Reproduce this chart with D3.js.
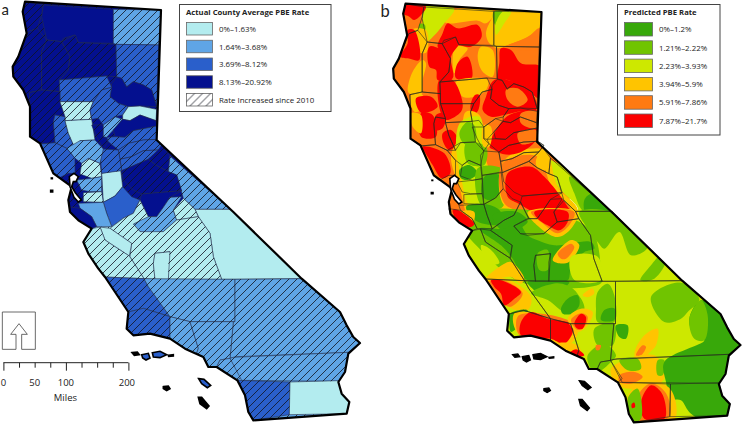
<!DOCTYPE html>
<html><head><meta charset="utf-8">
<script src="https://cdnjs.cloudflare.com/ajax/libs/d3/7.8.5/d3.min.js"></script>
<style>html,body{margin:0;padding:0;background:#fff}svg{display:block}text{font-family:"Open Sans",sans-serif;fill:#222}</style>
</head><body><svg id="c" width="742" height="424"></svg>
<script>
// legend content
const actualLabels = ["0%–1.63%","1.64%–3.68%","3.69%–8.12%","8.13%–20.92%"];
const actualColors = ["#b3ecef","#5fa5e6","#2a5fcb","#04108f"];
const predLabels = ["0%–1.2%","1.21%–2.22%","2.23%–3.93%","3.94%–5.9%","5.91%–7.86%","7.87%–21.7%"];
const predColors = ["#38a80a","#70c400","#cde800","#ffc400","#ff7a12","#fb0000"];
const scaleMiles = [0,25,50,75,100,125,150,175,200];
const scaleLabels = [0,50,100,200];

// map geometry in map units (1/3 px)
const stateOutline = [[75,5],[483,30],[470,420],[700,636],[905,836],[1020,936],[1040,976],[1060,1011],[1080,1029],[1045,1061],[1035,1116],[1015,1146],[1025,1181],[1048,1206],[1040,1241],[760,1261],[745,1236],[735,1186],[712,1141],[650,1101],[625,1101],[610,1071],[555,1046],[510,1016],[450,1001],[400,1006],[380,986],[385,936],[355,891],[315,831],[295,806],[265,761],[250,726],[275,686],[235,661],[210,636],[205,600],[215,560],[160,520],[120,430],[90,410],[90,320],[70,270],[40,230],[38,200],[55,170],[80,100],[68,35]];
// under-colour of the three broad regions: [actual class, outline]
const regionBands = [
[3,[[0,0],[1113,0],[1113,650],[0,650]]],
[0,[[0,650],[1113,650],[1113,834],[0,834]]],
[1,[[0,834],[1113,834],[1113,1272],[0,1272]]]
];
// [actual class, rate increased, outline]
const counties = [
[3,1,[[75,5],[130,15],[125,45],[112,85],[85,95],[80,100],[68,35]]],
[3,0,[[130,15],[340,28],[340,130],[235,128],[225,105],[190,115],[185,125],[140,120],[125,50]]],
[3,1,[[85,95],[112,85],[140,120],[125,155],[125,270],[88,278],[90,320],[70,270],[40,230],[38,200],[55,170]]],
[3,1,[[140,120],[185,125],[210,170],[205,210],[178,240],[180,275],[125,270],[125,155]]],
[3,1,[[185,125],[225,105],[235,128],[348,133],[350,230],[320,228],[178,240],[205,210],[210,170]]],
[1,1,[[340,28],[483,30],[476,135],[348,133],[340,130]]],
[2,1,[[348,133],[476,135],[470,320],[455,270],[430,255],[400,245],[380,260],[365,235],[350,230]]],
[3,0,[[330,290],[335,250],[350,232],[365,235],[380,262],[400,245],[430,255],[455,270],[470,320],[420,318],[385,320],[355,310]]],
[2,1,[[178,240],[320,228],[335,262],[305,270],[280,305],[180,305]]],
[3,1,[[88,278],[125,270],[180,275],[180,305],[195,350],[165,345],[160,365],[165,428],[120,432],[90,410],[90,320]]],
[0,1,[[180,305],[280,305],[270,330],[275,358],[195,362],[195,350]]],
[2,1,[[280,305],[305,270],[335,262],[330,290],[355,310],[385,320],[368,345],[345,350],[310,375],[295,355],[275,358],[270,330]]],
[0,0,[[368,345],[385,320],[420,318],[470,328],[468,362],[420,345],[390,362],[368,358]]],
[2,1,[[165,345],[195,350],[195,362],[205,400],[225,445],[200,445],[165,428],[160,365]]],
[0,0,[[195,362],[275,358],[285,420],[240,422],[225,445],[205,400]]],
[3,1,[[275,375],[310,375],[310,410],[325,425],[310,447],[290,410]]],
[1,1,[[310,375],[345,350],[368,358],[340,390],[320,412],[310,410]]],
[3,0,[[340,390],[368,358],[390,362],[420,345],[468,362],[470,378],[400,392],[375,412],[345,410]]],
[2,1,[[320,412],[345,410],[375,412],[400,392],[470,378],[472,418],[430,420],[385,430],[355,450],[325,425]]],
[2,1,[[355,450],[385,430],[430,420],[472,418],[490,430],[475,450],[430,452],[395,470],[360,478]]],
[2,1,[[360,478],[395,470],[430,452],[475,450],[445,478],[365,512]]],
[3,1,[[472,418],[510,468],[505,515],[470,497],[445,478],[475,450],[490,430]]],
[1,1,[[510,468],[700,636],[695,628],[585,628],[550,595],[530,525],[505,515]]],
[0,0,[[585,628],[695,628],[905,836],[665,838],[640,770],[630,700],[595,650]]],
[3,1,[[365,512],[445,478],[470,497],[505,515],[530,525],[545,572],[425,582],[400,570],[370,540]]],
[3,0,[[425,582],[545,572],[510,592],[490,622],[470,650],[445,650],[420,600]]],
[1,1,[[400,672],[440,650],[470,650],[490,622],[510,592],[545,590],[520,630],[530,660],[490,695],[440,700],[420,695]]],
[0,1,[[520,630],[550,595],[585,628],[595,650],[530,660]]],
[0,0,[[305,520],[362,510],[368,560],[345,588],[310,607]]],
[2,1,[[300,460],[310,447],[355,450],[360,478],[365,512],[305,520]]],
[0,1,[[245,490],[265,475],[300,490],[305,530],[275,535],[240,522]]],
[1,1,[[200,445],[240,422],[285,420],[310,447],[300,490],[265,475],[245,490],[225,475]]],
[2,1,[[120,432],[165,428],[200,445],[225,475],[225,520],[205,520],[175,535],[160,520]]],
[1,1,[[230,540],[275,535],[305,530],[305,575],[270,575],[245,570]]],
[0,1,[[250,578],[305,575],[310,607],[250,605]]],
[2,0,[[310,607],[345,588],[368,560],[395,590],[420,600],[400,640],[370,655],[335,680],[320,640]]],
[0,1,[[330,685],[370,655],[400,640],[420,600],[445,650],[400,672],[420,695],[490,695],[530,660],[595,650],[630,700],[640,770],[665,838],[505,838],[505,780],[510,755],[465,760],[460,790],[465,838],[432,836],[390,770],[395,730]]],
[0,0,[[465,760],[510,755],[505,838],[465,838],[460,790]]],
[0,0,[[300,681],[330,685],[395,730],[388,768],[345,740],[315,720]]],
[0,1,[[250,726],[275,686],[300,681],[315,720],[345,740],[388,768],[432,836],[315,831],[295,806],[265,761]]],
[1,0,[[235,610],[310,607],[320,640],[335,680],[290,680],[275,650],[240,625]]],
[3,0,[[205,620],[240,625],[275,650],[290,680],[275,686],[235,661],[210,636]]],
[2,1,[[315,831],[432,836],[445,860],[510,950],[430,925],[385,936],[355,891]]],
[2,1,[[385,936],[430,925],[510,950],[510,1016],[450,1001],[400,1006],[380,986]]],
[1,1,[[432,836],[705,838],[705,965],[570,965],[510,950],[445,860]]],
[1,1,[[705,838],[905,836],[1020,936],[1040,976],[1060,1011],[1080,1029],[1045,1057],[710,1070],[690,1075],[700,965],[705,965]]],
[1,1,[[510,950],[570,965],[595,1045],[590,1060],[610,1071],[555,1046],[510,1016]]],
[1,1,[[570,965],[700,965],[690,1075],[660,1080],[650,1101],[625,1101],[610,1071],[590,1060],[595,1045]]],
[1,1,[[660,1080],[690,1075],[725,1130],[712,1141],[650,1101]]],
[1,1,[[700,1072],[1045,1057],[1035,1116],[1015,1144],[725,1141],[690,1075]]],
[2,1,[[712,1141],[870,1146],[868,1244],[760,1261],[745,1236],[735,1186]]],
[0,0,[[870,1146],[1015,1142],[1025,1181],[1048,1206],[1040,1241],[868,1244]]]
];
const bayWater = [[208,530],[222,520],[235,530],[228,545],[220,545],[215,560],[226,578],[244,600],[235,606],[222,592],[210,560]];
const islands = [[[396,1058],[412,1056],[418,1064],[403,1066]],[[425,1064],[445,1060],[450,1074],[438,1080],[428,1074]],[[457,1058],[480,1054],[500,1064],[480,1073],[460,1071]],[[505,1066],[520,1064],[520,1068],[506,1069]],[[596,1136],[612,1138],[632,1156],[622,1163],[605,1151]],[[490,1160],[505,1158],[510,1166],[500,1172],[490,1166]],[[595,1192],[605,1192],[627,1218],[620,1226],[600,1211]],[[152,571],[158,571],[158,576],[152,576]],[[154,534],[157,534],[157,536],[154,536]]];
const blueIslands = [1,2,4];
// predicted surface, painted in order: [predicted class, contour]
const surface = [
[4,[[0,0],[560,0],[560,660],[200,660],[0,400]]],
[2,[[500,470],[800,636],[1150,1000],[1150,1300],[700,1300],[200,900],[240,700],[400,640],[620,630],[560,560]]],
[3,[[380,30],[515,40],[505,85],[470,110],[410,135],[380,145],[355,130],[345,100],[360,60]]],
[4,[[505,85],[510,145],[400,142],[470,112]]],
[3,[[250,30],[370,35],[345,70],[320,62],[230,70],[215,60]]],
[2,[[150,15],[250,25],[220,70],[200,95],[165,125],[150,110],[155,60]]],
[1,[[368,35],[395,35],[395,60],[378,80],[368,65]]],
[2,[[395,35],[420,35],[400,70],[375,105],[372,78]]],
[1,[[145,72],[162,75],[160,98],[147,95]]],
[5,[[100,5],[165,20],[130,60],[115,50],[95,40]]],
[3,[[120,90],[165,90],[172,130],[165,158],[140,155],[130,120]]],
[5,[[110,90],[130,90],[145,180],[110,175],[88,170],[110,130]]],
[3,[[110,270],[125,215],[155,180],[165,190],[155,240],[150,285],[115,280]]],
[3,[[120,285],[155,285],[165,320],[130,335]]],
[3,[[330,140],[365,150],[365,230],[335,215],[320,170]]],
[3,[[255,140],[290,145],[265,180],[250,220],[245,170]]],
[5,[[215,100],[230,70],[260,85],[320,75],[332,110],[300,140],[255,135],[215,150],[200,140]]],
[5,[[175,140],[215,145],[260,115],[265,130],[240,170],[245,235],[200,240],[195,210],[175,200]]],
[5,[[260,190],[290,170],[302,235],[255,235]]],
[5,[[390,145],[420,150],[450,190],[510,200],[505,295],[470,270],[450,260],[410,240],[380,240],[385,190]]],
[3,[[255,245],[350,240],[345,270],[310,290],[275,290]]],
[5,[[370,240],[440,250],[490,290],[495,330],[440,335],[400,345],[360,350],[335,330],[345,290]]],
[4,[[405,270],[440,265],[470,300],[440,320],[410,300]]],
[5,[[205,240],[245,240],[275,310],[270,335],[225,360],[210,340]]],
[5,[[312,285],[325,285],[322,330],[305,345],[298,320]]],
[5,[[135,295],[180,290],[200,320],[150,338]]],
[5,[[150,340],[185,345],[195,410],[150,410]]],
[5,[[195,345],[225,340],[215,385],[195,390]]],
[3,[[120,340],[150,345],[150,400],[125,380]]],
[5,[[215,400],[240,390],[265,430],[235,450],[218,430]]],
[5,[[155,440],[220,460],[238,520],[212,535],[185,495],[170,470]]],
[3,[[285,335],[325,345],[345,480],[400,600],[430,650],[380,670],[300,660],[265,560],[240,470],[270,400]]],
[2,[[270,365],[325,350],[340,420],[350,520],[385,610],[300,620],[270,530],[255,420]]],
[1,[[265,400],[290,365],[312,380],[310,432],[280,432]]],
[1,[[285,430],[345,440],[340,495],[290,490]]],
[0,[[265,510],[295,495],[320,520],[290,540],[270,535]]],
[1,[[320,505],[400,510],[405,590],[390,625],[330,615]]],
[0,[[340,530],[385,525],[395,560],[360,600],[335,590]]],
[3,[[400,480],[520,450],[560,560],[620,630],[575,705],[470,650],[395,610]]],
[4,[[395,490],[500,470],[545,570],[600,630],[570,695],[480,645],[400,610]]],
[5,[[355,440],[375,390],[415,345],[505,335],[495,420],[440,460],[395,462],[370,450]]],
[4,[[450,340],[500,335],[498,385],[450,370]]],
[4,[[440,400],[495,390],[495,420],[450,432]]],
[3,[[338,375],[360,380],[355,440],[338,440]]],
[5,[[410,590],[410,520],[480,500],[520,530],[570,590],[590,620],[600,636],[590,660],[565,690],[530,675],[490,640],[440,610]]],
[3,[[495,480],[520,447],[540,490],[525,510],[500,505]]],
[1,[[595,530],[720,636],[640,636],[610,580]]],
[0,[[640,600],[670,580],[750,660],[660,680]]],
[1,[[625,636],[720,636],[830,741],[780,766],[745,696],[700,746],[680,726],[650,686]]],
[1,[[260,650],[470,630],[660,690],[690,820],[690,850],[460,850],[340,760]]],
[0,[[285,620],[340,612],[385,630],[400,670],[320,665]]],
[0,[[365,646],[440,636],[470,666],[400,696]]],
[0,[[325,686],[400,686],[440,666],[470,706],[500,721],[550,736],[660,726],[670,746],[640,756],[600,806],[590,841],[535,841],[460,836],[425,776],[390,736]]],
[2,[[330,736],[360,750],[385,790],[350,790]]],
[3,[[470,636],[620,636],[600,686],[560,711],[510,686]]],
[4,[[480,636],[610,636],[595,675],[560,700],[515,670]]],
[5,[[490,636],[590,636],[590,666],[565,691],[530,676],[500,656]]],
[3,[[545,780],[600,720],[625,735],[595,785],[565,790]]],
[4,[[560,761],[600,731],[610,741],[585,776],[570,776]]],
[1,[[500,760],[530,750],[530,810],[505,810]]],
[2,[[600,770],[680,770],[690,840],[610,840]]],
[3,[[270,636],[310,636],[300,680],[265,670]]],
[5,[[245,630],[260,630],[310,671],[300,681],[265,671]]],
[3,[[345,836],[400,791],[420,786],[460,836],[450,851],[420,831],[380,836]]],
[0,[[470,846],[595,846],[560,876],[510,886],[490,871]]],
[1,[[480,880],[560,850],[610,870],[630,910],[590,940],[530,900]]],
[3,[[350,840],[400,835],[480,890],[470,930],[420,925]]],
[4,[[355,845],[395,841],[455,880],[420,920],[395,910]]],
[5,[[360,841],[390,841],[450,876],[430,896],[400,916],[390,881],[370,861]]],
[0,[[418,941],[470,931],[445,976],[420,996],[415,966]]],
[1,[[570,906],[620,886],[640,930],[600,945]]],
[0,[[570,926],[590,896],[620,886],[625,916],[600,941],[575,941]]],
[3,[[430,940],[540,950],[620,990],[600,1030],[540,1030],[440,1000]]],
[4,[[440,950],[500,940],[610,975],[585,1025],[530,1015],[445,1005]]],
[5,[[450,966],[480,936],[530,956],[600,971],[605,996],[580,1031],[540,1016],[520,1016],[450,1006]]],
[3,[[590,956],[630,926],[665,936],[650,976],[620,996]]],
[4,[[600,960],[630,940],[650,950],[640,980],[620,990]]],
[5,[[610,971],[630,941],[645,951],[635,986],[620,986]]],
[3,[[635,886],[665,866],[670,880],[650,892]]],
[1,[[680,876],[710,851],[730,886],[730,966],[680,966],[675,926]]],
[0,[[700,930],[730,925],[730,960],[690,960]]],
[1,[[670,986],[730,971],[725,1036],[680,1036]]],
[0,[[735,976],[770,976],[765,1016],[745,1011]]],
[1,[[650,1066],[700,1031],[735,1066],[720,1086],[680,1116],[660,1106]]],
[3,[[560,1031],[620,1036],[630,1066],[600,1070]]],
[5,[[595,1061],[615,1048],[640,1066],[610,1071]]],
[4,[[675,1036],[690,1036],[685,1050],[675,1050]]],
[3,[[790,1066],[820,1006],[860,986],[855,1036],[830,1066],[820,1116]]],
[4,[[795,1066],[815,1036],[825,1040],[810,1066]]],
[3,[[720,1106],[850,1066],[880,1136],[800,1166],[740,1156]]],
[1,[[745,1081],[800,1076],[810,1106],[770,1111]]],
[1,[[860,1081],[880,1081],[875,1126],[860,1126]]],
[4,[[745,1126],[790,1116],[815,1131],[780,1151],[745,1146]]],
[0,[[990,901],[1050,936],[1108,1034],[1100,1300],[960,1241],[930,1201],[900,1196],[885,1146],[880,1086],[1000,1021],[970,1006],[955,956]]],
[1,[[840,891],[930,848],[985,898],[950,936],[930,956],[880,966]]],
[1,[[955,956],[990,901],[1010,946],[1000,1021],[970,1016]]],
[1,[[808,841],[840,796],[870,766],[885,781],[850,836]]],
[3,[[770,1190],[830,1140],[900,1170],[910,1260],[790,1270]]],
[4,[[800,1190],[840,1150],[885,1180],[895,1250],[810,1265]]],
[5,[[810,1206],[840,1156],[870,1176],[885,1226],[880,1256],[820,1256]]],
[1,[[770,1196],[800,1166],[810,1256],[785,1266]]],
[5,[[782,1212],[790,1208],[792,1222],[783,1224]]]
];
const northArrow = [[48,1048],[48,1003],[32,1003],[57,971],[82,1003],[65,1003],[65,1048]];
const northBox = [[48,1048],[7,1048],[7,936],[106,936],[106,1048],[65,1048]];

const svg = d3.select("#c");
const xMap = d3.scaleLinear().domain([0,1113]).range([0,371]);
const yMap = d3.scaleLinear().domain([0,1272]).range([0,424]);
const poly = d3.line().x(d=>xMap(d[0])).y(d=>yMap(d[1])).curve(d3.curveLinearClosed);
const blob = d3.line().x(d=>xMap(d[0])).y(d=>yMap(d[1])).curve(d3.curveCatmullRomClosed.alpha(0.5));
const open = d3.line().x(d=>xMap(d[0])).y(d=>yMap(d[1]));
const defs = svg.append("defs");
const hatch = defs.append("pattern").attr("id","hatch").attr("patternUnits","userSpaceOnUse")
  .attr("width",8).attr("height",8);
hatch.append("path").attr("d","M-1,1L1,-1M0,8L8,0M7,9L9,7").attr("stroke","#10141f").attr("stroke-width",0.8).attr("fill","none");
// panel b origin: the same map sits 9.5 px right and 2 px down of the crop origin
const bOffsetX = 9.5, bOffsetY = 2;
defs.append("clipPath").attr("id","stateA").append("path").attr("d",poly(stateOutline));
defs.append("clipPath").attr("id","stateB").append("path").attr("d",poly(stateOutline))
  .attr("transform",`translate(${bOffsetX},${bOffsetY})`);

// Panel a
const a = svg.append("g");
const aMap = a.append("g").attr("clip-path","url(#stateA)");
aMap.selectAll("path.b").data(regionBands).join("path").attr("class","b").attr("d",d=>poly(d[1])).attr("fill",d=>actualColors[d[0]]);
aMap.selectAll("path.bh").data(regionBands).join("path").attr("class","bh").attr("d",d=>poly(d[1])).attr("fill","url(#hatch)");
aMap.selectAll("path.c").data(counties).join("path").attr("class","c").attr("d",d=>poly(d[2]))
  .attr("fill",d=>actualColors[d[0]]).attr("stroke","#26304f").attr("stroke-width",0.6);
aMap.selectAll("path.h").data(counties.filter(d=>d[1])).join("path").attr("class","h").attr("d",d=>poly(d[2]))
  .attr("fill","url(#hatch)");
function frame(g){
  g.append("path").attr("d",poly(stateOutline)).attr("fill","none").attr("stroke","#000").attr("stroke-width",2.2).attr("stroke-linejoin","round");
  g.append("path").attr("d",poly(bayWater)).attr("fill","#fff").attr("stroke","#000").attr("stroke-width",1.6);
}
frame(a);
a.selectAll("path.i").data(islands).join("path").attr("class","i").attr("d",poly)
  .attr("fill",(d,i)=>blueIslands.includes(i)?actualColors[2]:"#000").attr("stroke","#000").attr("stroke-width",1.6);

// Panel b
const b = svg.append("g").attr("transform","translate(371,0)");
const bMap = b.append("g").attr("clip-path","url(#stateB)");
bMap.selectAll("path").data(surface).join("path").attr("d",d=>blob(d[1])).attr("fill",d=>predColors[d[0]]);
const bLines = b.append("g").attr("transform",`translate(${bOffsetX},${bOffsetY})`);
bLines.append("g").selectAll("path").data(counties).join("path").attr("d",d=>poly(d[2]))
  .attr("fill","none").attr("stroke","#262a20").attr("stroke-width",0.6);
frame(bLines);
bLines.append("g").selectAll("path").data(islands).join("path").attr("d",poly)
  .attr("fill","#000").attr("stroke","#000").attr("stroke-width",1.2);

// Panel letters
svg.append("text").attr("x",1.5).attr("y",15).attr("font-size",15).style("font-family","Lato").text("a");
svg.append("text").attr("x",380.5).attr("y",16.5).attr("font-size",16.5).style("font-family","Lato").text("b");

// Legends
function legend(x,y,w,h,title,labels,colors,rowH,swW,swH){
  const g = svg.append("g").attr("transform",`translate(${x},${y})`);
  g.append("rect").attr("width",w).attr("height",h).attr("fill","#fff").attr("stroke","#444").attr("stroke-width",1);
  g.append("text").attr("x",6.5).attr("y",10.5).attr("font-size",7.7).attr("font-weight",700).text(title);
  const row = g.selectAll("g").data(labels).join("g").attr("transform",(d,i)=>`translate(7,${18+i*rowH})`);
  row.append("rect").attr("width",swW).attr("height",swH).attr("fill",(d,i)=>colors[i]||"#fff").attr("stroke","#666").attr("stroke-width",0.8);
  row.filter((d,i)=>!colors[i]).append("rect").attr("width",swW).attr("height",swH).attr("fill","url(#hatch)");
  row.append("text").attr("x",swW+6.5).attr("y",swH/2+3).attr("font-size",7.9).attr("fill","#333").text(d=>d);
}
legend(179.5,4.5,151.5,107,"Actual County Average PBE Rate",[...actualLabels,"Rate Increased since 2010"],actualColors,17.75,26,12.5);
legend(617.5,4.5,102.5,130.5,"Predicted PBE Rate",predLabels,predColors,18.3,28,13.5);

// North arrow
const arrow = svg.append("g").attr("fill","none").attr("stroke","#444").attr("stroke-width",0.8);
arrow.append("path").attr("d",open(northBox));
arrow.append("path").attr("d",open(northArrow));

// Scale bar
const miles = d3.scaleLinear().domain([0,200]).range([3.4,128.4]);
const bar = svg.append("g").attr("transform","translate(0,362.7)");
bar.call(d3.axisBottom(miles).tickValues(scaleMiles).tickSize(5).tickFormat(""));
bar.select(".domain").attr("stroke","#222").attr("d",`M${miles(0)},0H${miles(200)}`);
bar.selectAll(".tick line").attr("stroke","#222").attr("y2",d=>d%100===0?8:5);
svg.selectAll("text.mi").data(scaleLabels).join("text").attr("class","mi").attr("text-anchor","middle")
  .attr("x",d=>d===200?miles(d)-1.5:miles(d)).attr("y",386).attr("font-size",9.5).attr("fill","#333").text(d=>d);
svg.append("text").attr("x",miles(100)-0.5).attr("y",401).attr("text-anchor","middle").attr("font-size",9.5).attr("fill","#333").text("Miles");
</script></body></html>
